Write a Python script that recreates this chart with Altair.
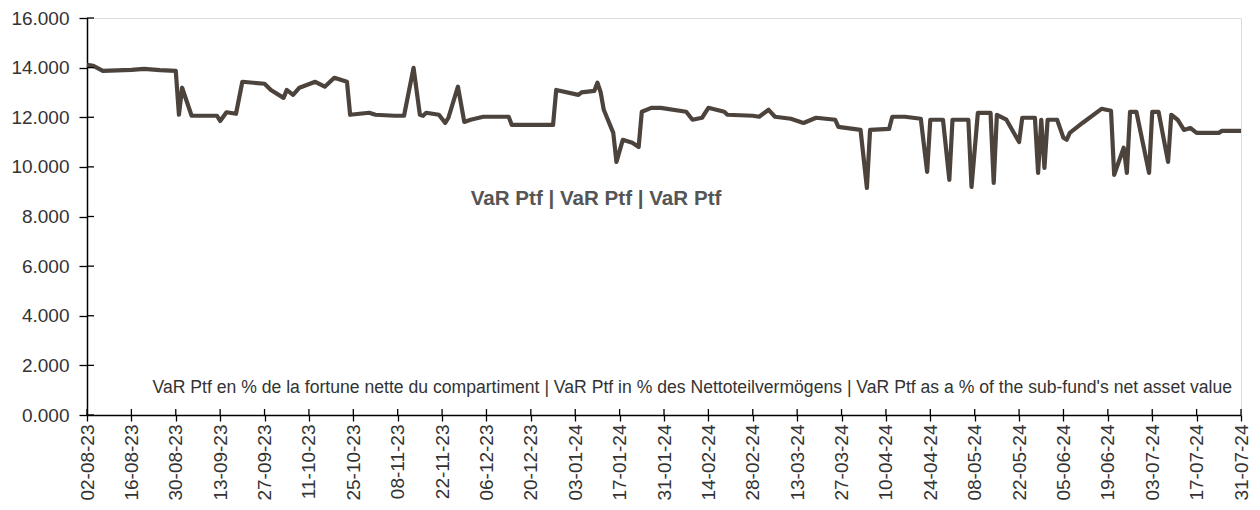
import altair as alt
import pandas as pd

# ---- data ----
dates = [
    "2023-08-02", "2023-08-04", "2023-08-07", "2023-08-16", "2023-08-20", "2023-08-25",
    "2023-08-30", "2023-08-31", "2023-09-01", "2023-09-04", "2023-09-12", "2023-09-13",
    "2023-09-15", "2023-09-18", "2023-09-20", "2023-09-27", "2023-09-29", "2023-10-03",
    "2023-10-04", "2023-10-06", "2023-10-08", "2023-10-13", "2023-10-16", "2023-10-19",
    "2023-10-23", "2023-10-24", "2023-10-30", "2023-11-01", "2023-11-07", "2023-11-10",
    "2023-11-13", "2023-11-15", "2023-11-16", "2023-11-17", "2023-11-21", "2023-11-23",
    "2023-11-24", "2023-11-27", "2023-11-29", "2023-12-01", "2023-12-05", "2023-12-13",
    "2023-12-14", "2023-12-27", "2023-12-28", "2024-01-04", "2024-01-05", "2024-01-09",
    "2024-01-10", "2024-01-11", "2024-01-12", "2024-01-15", "2024-01-16", "2024-01-18",
    "2024-01-21", "2024-01-23", "2024-01-24", "2024-01-27", "2024-01-30", "2024-02-07",
    "2024-02-09", "2024-02-12", "2024-02-14", "2024-02-19", "2024-02-20", "2024-02-28",
    "2024-03-01", "2024-03-04", "2024-03-06", "2024-03-11", "2024-03-15", "2024-03-19",
    "2024-03-25", "2024-03-26", "2024-04-02", "2024-04-04", "2024-04-05", "2024-04-11",
    "2024-04-12", "2024-04-16", "2024-04-21", "2024-04-23", "2024-04-24", "2024-04-28",
    "2024-04-30", "2024-05-01", "2024-05-06", "2024-05-07", "2024-05-09", "2024-05-13",
    "2024-05-14", "2024-05-15", "2024-05-18", "2024-05-22", "2024-05-23", "2024-05-27",
    "2024-05-28", "2024-05-29", "2024-05-30", "2024-05-31", "2024-06-03", "2024-06-05",
    "2024-06-06", "2024-06-07", "2024-06-11", "2024-06-17", "2024-06-20", "2024-06-21",
    "2024-06-24", "2024-06-25", "2024-06-26", "2024-06-28", "2024-07-02", "2024-07-03",
    "2024-07-05", "2024-07-08", "2024-07-09", "2024-07-11", "2024-07-13", "2024-07-15",
    "2024-07-17", "2024-07-24", "2024-07-25", "2024-07-31",
]
var_ptf = [
    14.11, 14.07, 13.87, 13.91, 13.95, 13.90,
    13.87, 12.10, 13.19, 12.06, 12.06, 11.85,
    12.20, 12.14, 13.43, 13.35, 13.10, 12.78,
    13.10, 12.90, 13.19, 13.43, 13.23, 13.59,
    13.43, 12.10, 12.18, 12.10, 12.06, 12.06,
    13.99, 12.10, 12.06, 12.18, 12.10, 11.77,
    11.98, 13.23, 11.81, 11.90, 12.02, 12.02,
    11.69, 11.69, 13.10, 12.90, 13.00, 13.06,
    13.39, 13.02, 12.30, 11.37, 10.20, 11.09,
    10.97, 10.80, 12.22, 12.38, 12.38, 12.22,
    11.90, 11.98, 12.38, 12.22, 12.10, 12.06,
    12.02, 12.30, 12.02, 11.94, 11.77, 11.98,
    11.90, 11.61, 11.49, 9.15, 11.49, 11.53,
    12.02, 12.02, 11.94, 9.80, 11.90, 11.90,
    9.48, 11.90, 11.90, 9.19, 12.18, 12.18,
    9.35, 12.10, 11.90, 11.00, 11.98, 11.98,
    9.76, 11.90, 9.96, 11.90, 11.90, 11.17,
    11.09, 11.37, 11.77, 12.34, 12.26, 9.68,
    10.77, 9.76, 12.22, 12.22, 9.76, 12.22,
    12.22, 10.20, 12.10, 11.90, 11.49, 11.57,
    11.37, 11.37, 11.45, 11.45,
]
x_ticks = [
    "2023-08-02", "2023-08-16", "2023-08-30", "2023-09-13", "2023-09-27", "2023-10-11",
    "2023-10-25", "2023-11-08", "2023-11-22", "2023-12-06", "2023-12-20", "2024-01-03",
    "2024-01-17", "2024-01-31", "2024-02-14", "2024-02-28", "2024-03-13", "2024-03-27",
    "2024-04-10", "2024-04-24", "2024-05-08", "2024-05-22", "2024-06-05", "2024-06-19",
    "2024-07-03", "2024-07-17", "2024-07-31",
]
y_ticks = [0, 2, 4, 6, 8, 10, 12, 14, 16]

title_text = "VaR Ptf | VaR Ptf | VaR Ptf"
footer_text = ("VaR Ptf en % de la fortune nette du compartiment | VaR Ptf in % des "
               "Nettoteilvermögens | VaR Ptf as a % of the sub-fund's net asset value")

W, H = 1154, 397
FONT = "Liberation Sans"
TXT = "#333333"

df = pd.DataFrame({"date": dates, "value": var_ptf})
xt_df = pd.DataFrame({"date": x_ticks})
yt_df = pd.DataFrame({"value": y_ticks})

tick_dt = [alt.DateTime(year=int(d[:4]), month=int(d[5:7]), date=int(d[8:10]), utc=True)
           for d in x_ticks]

x_scale = alt.Scale(type="utc", domain=[tick_dt[0], tick_dt[-1]], nice=False)
y_scale = alt.Scale(domain=[0, 16], nice=False)

line = alt.Chart(df).mark_line(color="#4c433d", strokeWidth=4.2, strokeJoin="round").encode(
    x=alt.X("date:T", scale=x_scale, title=None,
            axis=alt.Axis(values=tick_dt, labelExpr="utcFormat(datum.value, '%d-%m-%y')",
                          labelAngle=-90, labelFontSize=19, labelFont=FONT, labelColor=TXT,
                          tickSize=6, tickColor="#000", tickWidth=1.3,
                          domainColor="#000", domainWidth=1.5, labelPadding=3,
                          grid=False, labelOverlap=False, labelFlush=False)),
    y=alt.Y("value:Q", scale=y_scale, title=None,
            axis=alt.Axis(values=y_ticks, format=".3f", labelFontSize=19, labelFont=FONT,
                          labelColor=TXT, tickSize=8, tickColor="#000", tickWidth=1.3,
                          domainColor="#000", domainWidth=1.5, labelPadding=10,
                          grid=False)),
)

x_inner = alt.Chart(xt_df).mark_rule(color="#000", strokeWidth=1.3).encode(
    x=alt.X("date:T", scale=x_scale),
    y=alt.value(H - 6), y2=alt.value(H),
)
y_inner = alt.Chart(yt_df).mark_rule(color="#000", strokeWidth=1.3).encode(
    y=alt.Y("value:Q", scale=y_scale),
    x=alt.value(0), x2=alt.value(7),
)

title = alt.Chart(pd.DataFrame({"t": [title_text]})).mark_text(
    font=FONT, fontSize=20.6, fontWeight="bold", color="#555555",
    align="center", baseline="middle").encode(
    text="t:N", x=alt.value(509), y=alt.value(181))

footer = alt.Chart(pd.DataFrame({"t": [footer_text]})).mark_text(
    font=FONT, fontSize=17.6, color=TXT, align="right", baseline="middle").encode(
    text="t:N", x=alt.value(1145), y=alt.value(370))

chart = alt.layer(line, x_inner, y_inner, title, footer).properties(
    width=W, height=H,
    autosize=alt.AutoSizeParams(type="none"),
    padding={"left": 79, "top": 10, "right": 10, "bottom": 90},
).configure_view(stroke="#333333", strokeWidth=2).configure(background="white")

chart.save("out.html", embed_options={"renderer": "svg", "actions": False})
